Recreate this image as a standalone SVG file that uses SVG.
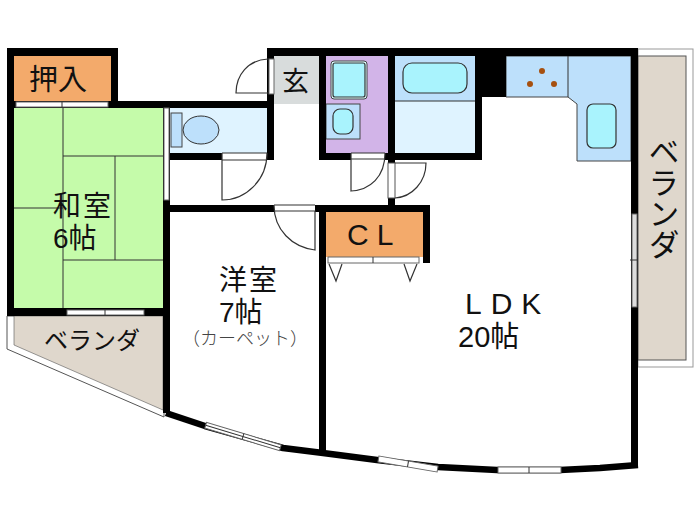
<svg xmlns="http://www.w3.org/2000/svg" width="700" height="525" viewBox="0 0 700 525">
<style>
text{font-family:"Liberation Sans","Noto Sans CJK JP",sans-serif;fill:#111;font-weight:400}
.wall{fill:#000}
.ln{fill:none;stroke:#333;stroke-width:1}
.door{fill:none;stroke:#333;stroke-width:1.2}
.win{fill:#fff;stroke:#666;stroke-width:1}
.fx{fill:#a9f3fd;stroke:#333;stroke-width:1.2}
.counter{fill:#bde0fb;stroke:#444;stroke-width:1}
.or{fill:#f3aa6b}
.ver{fill:#dfd7cc}
</style>
<rect width="700" height="525" fill="#fff"/>
<g id="veranda-right">
<rect x="638" y="49" width="55" height="318" fill="#fff" stroke="#999"/>
<rect x="638" y="56" width="48" height="304" class="ver" stroke="#555"/>
<text x="661" y="136" font-size="31" style="writing-mode:vertical-rl">ベランダ</text>
</g>
<g id="veranda-left">
<path d="M7 316V349L164 417V316Z" fill="#fff" stroke="#555"/>
<path d="M14 316V345L163 410V316Z" class="ver" stroke="#555" stroke-width=".6"/>
<text x="44" y="349" font-size="24">ベランダ</text>
</g>
<g id="closet">
<rect x="14" y="56" width="97" height="45" class="or"/>
<text x="29" y="90" font-size="29">押入</text>
</g>
<g id="washitsu">
<rect x="14" y="108" width="149" height="200" fill="#c5fbaa"/>
<path class="ln" d="M63 108V308M63 156H163M63 260H163M115 156V260M14 208H63"/>
<text font-size="28"><tspan x="53" y="216" letter-spacing="2">和室</tspan><tspan x="53" y="248">6帖</tspan></text>
</g>
<g id="toilet">
<rect x="170" y="108" width="97" height="45" fill="#dff3ff"/>
<rect x="171" y="113" width="11" height="34" class="counter"/>
<ellipse cx="201" cy="130" rx="18" ry="14" fill="#bde0fb" stroke="#333"/>
</g>
<g id="genkan">
<rect x="274" y="56" width="45" height="48" fill="#d8dcdc"/>
<text x="282" y="91" font-size="27">玄</text>
</g>
<g id="washroom">
<rect x="326" y="56" width="62" height="97" fill="#d2b4e8"/>
<rect x="331" y="61" width="36" height="38" rx="3" fill="#dff" stroke="#444"/>
<rect x="333" y="63" width="32" height="34" rx="2" class="fx"/>
<rect x="326" y="104" width="34" height="35" class="counter"/>
<rect x="333" y="109" width="20" height="25" rx="7" class="fx"/>
</g>
<g id="bath">
<rect x="395" y="56" width="80" height="45" fill="#bde0fb"/>
<rect x="395" y="101" width="80" height="52" fill="#dff3ff"/>
<path class="ln" d="M395 101H475"/>
<rect x="403" y="63" width="64" height="30" rx="9" class="fx"/>
</g>
<g id="kitchen">
<path d="M506 56H631V161H577V104L568 97H506Z" class="counter"/>
<path class="ln" d="M568 56V97"/>
<circle cx="542" cy="71" r="3" fill="#a6500f"/>
<circle cx="530" cy="84" r="3" fill="#a6500f"/>
<circle cx="554" cy="84" r="3" fill="#a6500f"/>
<rect x="587" y="104" width="29" height="44" rx="6" class="fx"/>
</g>
<g id="cl">
<rect x="326" y="212" width="97" height="45" class="or"/>
<text x="347" y="245" font-size="30" letter-spacing="8">CL</text>
</g>
<g id="yoshitsu">
<text font-size="28"><tspan x="219" y="290" letter-spacing="2">洋室</tspan><tspan x="219" y="322">7帖</tspan><tspan x="182" y="345" font-size="18" fill="#444" font-weight="300">（カーペット）</tspan></text>
</g>
<g id="ldk">
<text font-size="29"><tspan x="465" y="314" font-size="30" letter-spacing="9">LDK</tspan><tspan x="458" y="347">20帖</tspan></text>
</g>
<g id="walls">
<rect class="wall" x="7" y="48" width="111" height="8"/>
<rect class="wall" x="7" y="48" width="7" height="268"/>
<rect class="wall" x="111" y="48" width="7" height="60"/>
<rect class="wall" x="7" y="101" width="267" height="7"/>
<rect class="wall" x="7" y="308" width="163" height="8"/>
<rect class="wall" x="163" y="101" width="7" height="312"/>
<rect class="wall" x="170" y="153" width="104" height="7"/>
<rect class="wall" x="267" y="48" width="7" height="112"/>
<rect class="wall" x="267" y="48" width="371" height="8"/>
<rect class="wall" x="319" y="48" width="7" height="112"/>
<rect class="wall" x="319" y="153" width="163" height="7"/>
<rect class="wall" x="388" y="48" width="7" height="115"/>
<rect class="wall" x="475" y="48" width="7" height="112"/>
<rect class="wall" x="482" y="48" width="24" height="49"/>
<rect class="wall" x="388" y="198" width="7" height="8"/>
<rect class="wall" x="170" y="205" width="260" height="7"/>
<rect class="wall" x="423" y="205" width="7" height="58"/>
<rect class="wall" x="319" y="205" width="7" height="247"/>
<rect class="wall" x="631" y="48" width="7" height="420"/>
<path d="M166 413L205 426L283 448L323 453L377 460L438 467L497 470L560 470L600 468L638 465" fill="none" stroke="#000" stroke-width="6.5" stroke-linejoin="round"/>
</g>
<g id="connectors">
<rect x="16" y="102" width="92" height="5" class="win"/>
<path class="ln" d="M62 101V108"/>
<rect x="67" y="310" width="77" height="5" class="win"/>
<path class="ln" d="M105 309V316"/>
<rect x="164" y="108" width="5" height="92" class="win"/>
<rect x="632" y="214" width="5" height="93" fill="#ddd" stroke="#666"/>
<path class="ln" d="M630 260H638"/>
<rect x="328" y="257" width="91" height="6" class="win"/>
<path class="ln" d="M373 257V263"/>
<path class="door" d="M329 264L336 281L342 264M404 264L410 281L417 264"/>
<rect x="269" y="59" width="5" height="35" class="win"/>
<path class="door" d="M268 59C248 60 236 75 236 93H268"/>
<rect x="222" y="153" width="45" height="7" fill="#fff"/>
<path class="door" d="M222 153H267M222 160H267M222 153V200C246 200 267 180 267 153"/>
<rect x="274" y="205" width="41" height="7" fill="#fff"/>
<path class="door" d="M274 205H315M274 211H315V250C292 247 274 230 274 205"/>
<rect x="351" y="153" width="34" height="7" fill="#fff"/>
<path class="door" d="M351 153H385M351 159H385M351 153V191C370 190 385 177 385 153"/>
<rect x="388" y="163" width="7" height="35" fill="#fff" stroke="#555"/>
<path class="door" d="M395 163H426C426 182 412 197 395 198"/>
<g transform="rotate(16.8 243 436.5)"><rect x="204" y="433.5" width="78" height="6" class="win"/><path class="ln" d="M243 433.5V439.5M204 436.5H282"/></g>
<g transform="rotate(9.6 408 464)"><rect x="378" y="461" width="60" height="6" class="win"/><path class="ln" d="M408 461V467"/></g>
<rect x="498" y="467" width="63" height="6" class="win"/>
<path class="ln" d="M529 467V473"/>
</g>
</svg>
